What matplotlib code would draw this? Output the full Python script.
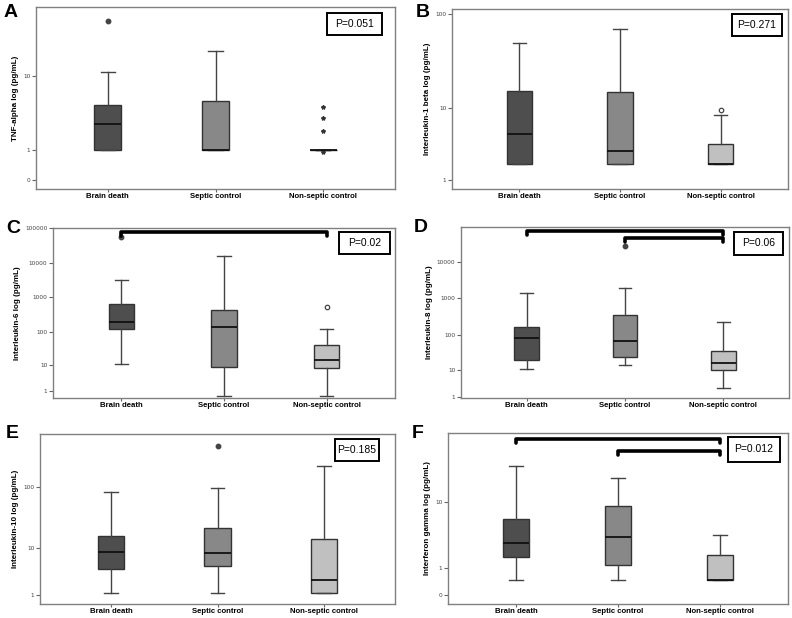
import numpy as np
import matplotlib
matplotlib.use("Agg")
import matplotlib.pyplot as plt
from matplotlib.patches import Rectangle
from matplotlib.ticker import NullLocator
from matplotlib.transforms import blended_transform_factory

W, H = 792, 618

groups = ["Brain death", "Septic control", "Non-septic control"]

# five-number summaries per group: whisker low, q1, median, q3, whisker high
tnf_box = [[1, 1, 2.67, 4.64, 11.0], [1, 1, 1, 5.18, 18.5], [1, 1, 1, 1, 1]]
tnf_out = [[38.3], [], [0.9, 2.13, 3.21, 4.34]]

il1b_box = [[1.94, 1.94, 5.0, 15.4, 49.9], [1.94, 1.94, 2.96, 15.0, 69.8],
            [1.94, 1.94, 1.94, 3.71, 8.27]]
il1b_out = [[], [], [9.5]]

il6_box = [[11.0, 118, 191, 626, 3090], [0.36, 8.6, 138, 428, 15900],
           [0.36, 8.0, 14.4, 39.5, 118]]
il6_out = [[54800], [], [511]]

il8_box = [[11.0, 20.3, 82, 164, 1419], [14.1, 23.7, 68, 355, 1875],
           [2.6, 10.0, 16.2, 36.1, 226]]
il8_out = [[], [26900], []]

il10_box = [[1.18, 4.14, 8.8, 16.3, 84], [1.18, 4.8, 8.5, 22, 98],
            [1.18, 1.18, 2.55, 14.7, 217]]
il10_out = [[], [455], []]

ifng_box = [[0.49, 1.70, 2.81, 6.05, 26.8], [0.49, 1.19, 3.48, 8.9, 19.2],
            [0.49, 0.49, 0.49, 1.86, 3.75]]
ifng_out = [[], [], []]

p_values = ["P=0.051", "P=0.271", "P=0.02", "P=0.06", "P=0.185", "P=0.012"]

FILLS = ["#4e4e4e", "#888888", "#c0c0c0"]


def fwd(x):
    return np.log10(np.clip(np.asarray(x, float) + 1, 1e-6, None))


def inv(u):
    return 10 ** np.asarray(u, float) - 1


fig = plt.figure(figsize=(W / 100, H / 100), dpi=100)


def panel(rect, letter, lpos, ylabel, boxes, outs, marks, yticks, ylim,
          pbox, ptext, brackets=()):
    l, t, r, b = rect
    ax = fig.add_axes([l / W, 1 - b / H, (r - l) / W, (b - t) / H])
    ax.set_yscale("function", functions=(fwd, inv))
    stats = [dict(whislo=s[0], q1=s[1], med=s[2], q3=s[3], whishi=s[4], fliers=[])
             for s in boxes]
    art = ax.bxp(stats, positions=[0, 1, 2], widths=0.25, capwidths=0.13,
                 patch_artist=True, showfliers=False,
                 boxprops=dict(edgecolor="#333333", linewidth=1.0),
                 whiskerprops=dict(color="#444444", linewidth=1.0),
                 capprops=dict(color="#444444", linewidth=1.0),
                 medianprops=dict(color="#111111", linewidth=1.3))
    for patch, c in zip(art["boxes"], FILLS):
        patch.set_facecolor(c)
    for i, vals in enumerate(outs):
        if not vals:
            continue
        m = marks[i]
        if m == "star":
            ax.plot([i] * len(vals), vals, ls="none", marker="*", ms=3.0,
                    color="#333333", clip_on=False)
        elif m == "filled":
            ax.plot([i] * len(vals), vals, ls="none", marker="o", ms=3.2,
                    color="#444444", clip_on=False)
        else:
            ax.plot([i] * len(vals), vals, ls="none", marker="o", ms=3.2,
                    mfc="white", mec="#444444", mew=0.9, clip_on=False)

    ax.set_xlim(-2 / 3, 8 / 3)
    ax.set_ylim(*ylim)
    ax.set_yticks(yticks)
    ax.set_yticklabels([str(v) for v in yticks])
    ax.yaxis.set_minor_locator(NullLocator())
    ax.set_xticks([0, 1, 2])
    ax.set_xticklabels(groups, fontsize=5.6, fontweight="bold",
                       family=["Liberation Sans", "DejaVu Sans"])
    ax.tick_params(axis="y", labelsize=4.2, length=3, width=0.8, color="#666666",
                   labelcolor="#444444", pad=1)
    ax.tick_params(axis="x", length=2, width=0.8, color="#666666", pad=1.2)
    for sp in ax.spines.values():
        sp.set_color("#808080")
        sp.set_linewidth(1.0)
    ax.set_ylabel(ylabel, fontsize=5.8, fontweight="bold", labelpad=3,
                  family=["Liberation Sans", "DejaVu Sans"])

    # significance brackets (pixel y positions of bar and hook ends)
    tr = blended_transform_factory(ax.transData, ax.transAxes)
    for x0, x1, yb, yh in brackets:
        fb = (b - yb) / (b - t)
        fh = (b - yh) / (b - t)
        ax.plot([x0, x0, x1, x1], [fh, fb, fb, fh], transform=tr, color="black",
                lw=2.6, solid_joinstyle="round", solid_capstyle="round",
                clip_on=False)

    # p-value box
    px0, py0, px1, py1 = pbox
    fig.add_artist(Rectangle((px0 / W, 1 - py1 / H), (px1 - px0) / W,
                             (py1 - py0) / H, transform=fig.transFigure,
                             fill=False, edgecolor="black", linewidth=1.4))
    fig.text((px0 + px1) / 2 / W, 1 - (py0 + py1) / 2 / H, ptext, fontsize=7.5,
             ha="center", va="center", family=["Liberation Sans", "DejaVu Sans"])

    fig.text(lpos[0] / W, 1 - lpos[1] / H, letter, fontsize=14, fontweight="bold",
             ha="left", va="baseline", family=["Liberation Sans", "DejaVu Sans"])
    return ax


panel((36, 7, 395, 189), "A", (4, 17), "TNF-alpha log (pg/mL)",
      tnf_box, tnf_out, ["filled", None, "star"], [0, 1, 10], (-0.181, 52.8),
      (327, 13, 382, 35), p_values[0])

panel((452, 9, 788, 189), "B", (416, 17), "Interleukin-1 beta log (pg/mL)",
      il1b_box, il1b_out, [None, None, "open"], [1, 10, 100], (0.63, 112.6),
      (732, 14, 782, 36), p_values[1])

panel((53, 228, 395, 398), "C", (6, 233), "Interleukin-6 log (pg/mL)",
      il6_box, il6_out, ["filled", None, "open"],
      [1, 10, 100, 1000, 10000, 100000], (0.23, 100000),
      (339, 232, 390, 254), p_values[2],
      brackets=[(0, 2, 231.7, 235.7)])

panel((461, 227, 789, 398), "D", (414, 232), "Interleukin-8 log (pg/mL)",
      il8_box, il8_out, [None, "filled", None],
      [1, 10, 100, 1000, 10000], (0.915, 88500),
      (734, 232, 783, 255), p_values[3],
      brackets=[(0, 2, 231, 235), (1, 2, 237.7, 242)])

panel((40, 434, 395, 604), "E", (6, 438), "Interleukin-10 log (pg/mL)",
      il10_box, il10_out, [None, "filled", None], [1, 10, 100], (0.467, 699),
      (335, 439, 379, 461), p_values[4])

panel((448, 433, 788, 604), "F", (412, 438), "Interferon gamma log (pg/mL)",
      ifng_box, ifng_out, [None, None, None], [0, 1, 10], (-0.197, 63.9),
      (728, 437, 780, 462), p_values[5],
      brackets=[(0, 2, 439.3, 442.5), (1, 2, 450.7, 454.5)])

fig.savefig("out.png", dpi=100)
